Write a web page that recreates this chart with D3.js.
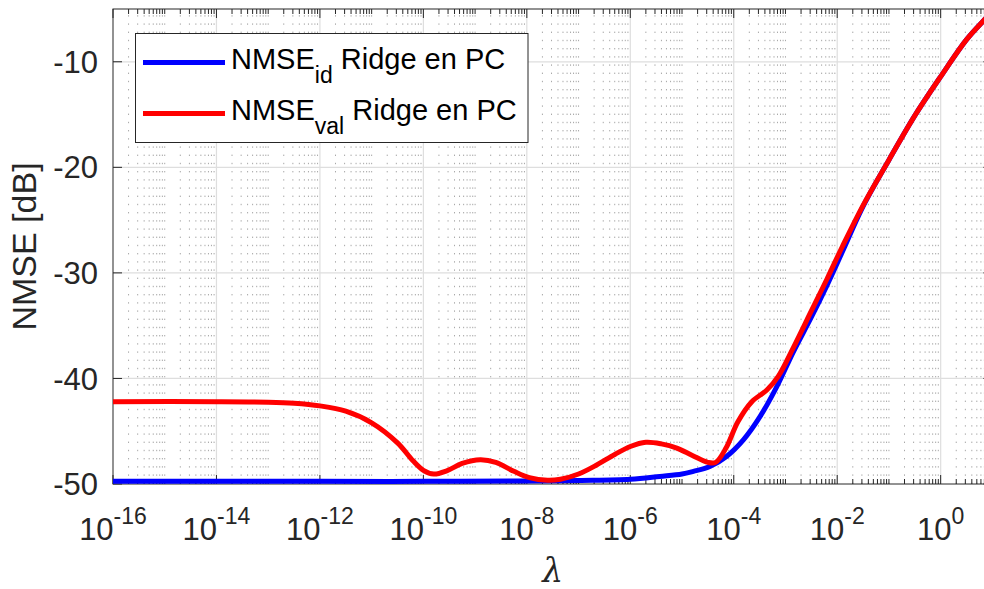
<!DOCTYPE html>
<html>
<head>
<meta charset="utf-8">
<script src="https://cdn.jsdelivr.net/npm/d3@7"></script>
<style>
  html, body { margin: 0; padding: 0; background: #fff; }
  svg { display: block; font-family: "Liberation Sans", Arial, Helvetica, sans-serif; }
</style>
</head>
<body>
<svg id="chart" width="984" height="589"></svg>
<script>
// log10(lambda) sample positions and NMSE values in dB
const idLogLambda = [-16, -12, -10, -8, -7, -6, -5.43, -5.0, -4.78, -4.46, -4.14, -3.81, -3.49, -3.17, -2.85, -2.5, -2.2, -1.9, -1.5, -1.0, -0.5, 0, 0.5, 0.85, 1.0];
const idNmse      = [-49.75, -49.75, -49.75, -49.72, -49.66, -49.55, -49.28, -49.05, -48.8, -48.35, -47.4, -45.8, -43.6, -40.8, -37.5, -34.2, -31.2, -28.0, -23.7, -19.3, -15.1, -11.4, -7.9, -6.0, -5.2];

const valLogLambda = [-16, -14, -13, -12.5, -12, -11.5, -11, -10.5, -10.2, -10.0, -9.8, -9.55, -9.25, -8.9, -8.6, -8.25, -7.95, -7.6, -7.35, -7.0, -6.65, -6.3, -6.0, -5.7, -5.4, -5.1, -4.8, -4.5, -4.35, -4.15, -3.92, -3.65, -3.36, -3.14, -2.85, -2.5, -2.2, -1.9, -1.5, -1.0, -0.5, 0, 0.5, 0.85, 1.0];
const valNmse      = [-42.2, -42.2, -42.25, -42.35, -42.6, -43.1, -44.2, -46.1, -47.8, -48.7, -49.05, -48.75, -48.05, -47.7, -47.95, -48.8, -49.4, -49.65, -49.55, -49.05, -48.2, -47.2, -46.45, -46.05, -46.2, -46.6, -47.3, -47.95, -47.95, -46.6, -44.1, -42.2, -41.1, -39.8, -37.1, -33.6, -30.6, -27.5, -23.6, -19.3, -15.1, -11.4, -7.9, -6.0, -5.2];

const xMajorExponents = [-16, -14, -12, -10, -8, -6, -4, -2, 0];
const yTickValues = [-50, -40, -30, -20, -10];
const legendSubscripts = ["id", "val"];
const legendColors = ["#0000ff", "#ff0000"];

const svg = d3.select("#chart");
const plotLeft = 113, plotRight = 992.4, plotTop = 9, plotBottom = 484;
const axisColor = "#262626";

const x = d3.scaleLog().domain([1e-16, 1e1]).range([plotLeft, plotRight]);
const y = d3.scaleLinear().domain([-50, -5]).range([plotBottom, plotTop]);

// minor tick positions: d * 10^k, skipping labelled decades
const minorTicks = [];
for (let k = -16; k <= 0; k++) {
  for (let d = 1; d <= 9; d++) {
    if (d === 1 && xMajorExponents.includes(k)) continue;
    const v = d * Math.pow(10, k);
    if (v > 1e-16 && v < 1e1) minorTicks.push(v);
  }
}
const majorTicks = xMajorExponents.map(e => Math.pow(10, e));

// grid
const grid = svg.append("g");
grid.selectAll("line.minor").data(minorTicks).join("line")
  .attr("x1", d => x(d)).attr("x2", d => x(d))
  .attr("y1", plotBottom).attr("y2", plotTop)
  .attr("stroke", "#a8a8a8").attr("stroke-width", 1)
  .attr("stroke-dasharray", "1.4 6.8");
grid.selectAll("line.majx").data(majorTicks.slice(1)).join("line")
  .attr("x1", d => x(d)).attr("x2", d => x(d))
  .attr("y1", plotBottom).attr("y2", plotTop)
  .attr("stroke", "#dedede").attr("stroke-width", 1.2);
grid.selectAll("line.majy").data(yTickValues.slice(1)).join("line")
  .attr("x1", plotLeft).attr("x2", plotRight)
  .attr("y1", d => y(d)).attr("y2", d => y(d))
  .attr("stroke", "#dedede").attr("stroke-width", 1.2);

// axes box and inward ticks
const ax = svg.append("g").attr("stroke", axisColor).attr("stroke-width", 1);
ax.append("rect").attr("x", plotLeft).attr("y", plotTop)
  .attr("width", plotRight - plotLeft).attr("height", plotBottom - plotTop).attr("fill", "none");
[plotBottom, plotTop].forEach(y0 => {
  const dir = y0 === plotBottom ? -1 : 1;
  ax.append("g").selectAll("line").data(majorTicks).join("line")
    .attr("x1", d => x(d)).attr("x2", d => x(d))
    .attr("y1", y0).attr("y2", y0 + dir * 9);
  ax.append("g").selectAll("line").data(minorTicks).join("line")
    .attr("x1", d => x(d)).attr("x2", d => x(d))
    .attr("y1", y0).attr("y2", y0 + dir * 5);
});
[plotLeft, plotRight].forEach(x0 => {
  const dir = x0 === plotLeft ? 1 : -1;
  ax.append("g").selectAll("line").data(yTickValues).join("line")
    .attr("x1", x0).attr("x2", x0 + dir * 9)
    .attr("y1", d => y(d)).attr("y2", d => y(d));
});

// tick labels
const xl = svg.append("g").attr("fill", axisColor).attr("font-size", 31);
xMajorExponents.forEach(e => {
  const t = xl.append("text").attr("x", x(Math.pow(10, e))).attr("y", 540)
    .attr("text-anchor", "middle");
  t.append("tspan").text("10");
  t.append("tspan").attr("dy", -16).attr("font-size", 23).text(String(e));
});
svg.append("g").attr("fill", axisColor).attr("font-size", 31)
  .selectAll("text").data(yTickValues).join("text")
  .attr("x", 98).attr("y", d => y(d)).attr("dy", "0.36em")
  .attr("text-anchor", "end").text(d => d);

// axis titles
svg.append("text").attr("transform", `translate(36,${(plotTop + plotBottom) / 2}) rotate(-90)`)
  .attr("text-anchor", "middle").attr("font-size", 34).attr("fill", axisColor)
  .text("NMSE [dB]");
svg.append("text").attr("x", (plotLeft + plotRight) / 2).attr("y", 582)
  .attr("text-anchor", "middle").attr("font-size", 33).attr("font-style", "italic")
  .attr("fill", axisColor).attr("font-family", "'DejaVu Serif', serif").text("λ");

// curves
svg.append("clipPath").attr("id", "plotArea").append("rect")
  .attr("x", plotLeft).attr("y", plotTop).attr("width", plotRight - plotLeft).attr("height", plotBottom - plotTop);
const line = d3.line()
  .x(d => x(Math.pow(10, d[0])))
  .y(d => y(d[1]))
  .curve(d3.curveCatmullRom.alpha(0.5));
const plot = svg.append("g").attr("clip-path", "url(#plotArea)");
plot.append("path").attr("d", line(d3.zip(idLogLambda, idNmse)))
  .attr("fill", "none").attr("stroke", legendColors[0]).attr("stroke-width", 5);
plot.append("path").attr("d", line(d3.zip(valLogLambda, valNmse)))
  .attr("fill", "none").attr("stroke", legendColors[1]).attr("stroke-width", 5);

// legend
const lg = svg.append("g");
lg.append("rect").attr("x", 135.5).attr("y", 33.5).attr("width", 392.5).attr("height", 109)
  .attr("fill", "#fff").attr("stroke", axisColor).attr("stroke-width", 1);
const rowY = [62.5, 113.5];
legendSubscripts.forEach((sub, i) => {
  lg.append("line").attr("x1", 143).attr("x2", 225).attr("y1", rowY[i]).attr("y2", rowY[i])
    .attr("stroke", legendColors[i]).attr("stroke-width", 5);
  const t = lg.append("text").attr("x", 231).attr("y", rowY[i] + 6).attr("font-size", 29)
    .attr("fill", "#000").style("white-space", "pre");
  t.append("tspan").text("NMSE");
  t.append("tspan").attr("dy", 14).attr("font-size", 23).text(sub);
  t.append("tspan").attr("dy", -14).text(" Ridge en PC");
});
</script>
</body>
</html>
